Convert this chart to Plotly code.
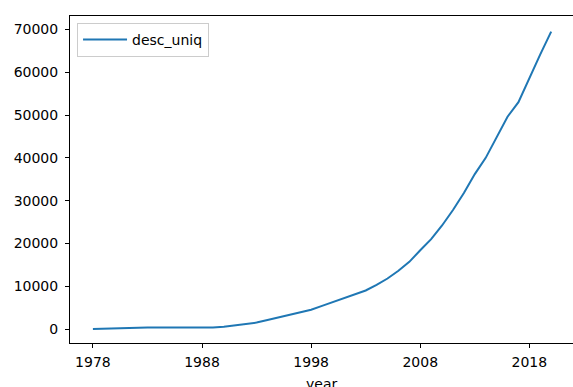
import plotly.graph_objects as go

years = list(range(1978, 2021))
desc_uniq = [
    0, 100, 150, 250, 350, 380, 370, 370, 360, 350,
    350, 340, 550, 900, 1200, 1500, 2100, 2700, 3300, 3900,
    4500, 5400, 6300, 7100, 8000, 9000, 10300, 11800, 13600, 15700,
    18400, 21000, 24200, 27800, 31800, 36200, 40000, 44800, 49600, 53000,
    58700, 64200, 69500,
]
x_ticks = [1978, 1988, 1998, 2008, 2018]
y_ticks = [0, 10000, 20000, 30000, 40000, 50000, 60000, 70000]

font = dict(family="DejaVu Sans", size=14, color="black")

fig = go.Figure()
fig.add_trace(go.Scatter(
    x=years, y=desc_uniq, mode="lines", name="desc_uniq",
    line=dict(color="#1f77b4", width=2),
))

fig.update_layout(
    width=573, height=387,
    margin=dict(l=70, r=0, t=16, b=44),
    paper_bgcolor="white", plot_bgcolor="white",
    font=font,
    showlegend=True,
    legend=dict(
        x=0.014, y=0.979, xanchor="left", yanchor="top",
        bgcolor="rgba(255,255,255,0.8)", bordercolor="#cccccc", borderwidth=1,
        font=font, itemwidth=44,
    ),
    xaxis=dict(
        range=[1975.9, 2022.0], tickvals=x_ticks, ticktext=[str(v) for v in x_ticks],
        showgrid=False, zeroline=False, showline=True, mirror=True,
        linecolor="black", linewidth=1, ticks="outside", ticklen=4, tickwidth=1,
        tickcolor="black", tickfont=font, automargin=False, ticklabelstandoff=2,
    ),
    yaxis=dict(
        range=[-3270, 73150], tickvals=y_ticks, ticktext=[str(v) for v in y_ticks],
        showgrid=False, zeroline=False, showline=True, mirror=True,
        linecolor="black", linewidth=1, ticks="outside", ticklen=4, tickwidth=1,
        tickcolor="black", tickfont=font, automargin=False, ticklabelstandoff=4,
    ),
    annotations=[dict(
        text="year", xref="paper", yref="paper", x=0.5, y=0,
        xanchor="center", yanchor="top", yshift=-31, showarrow=False, font=font,
    )],
)

fig.write_html("out.html")
